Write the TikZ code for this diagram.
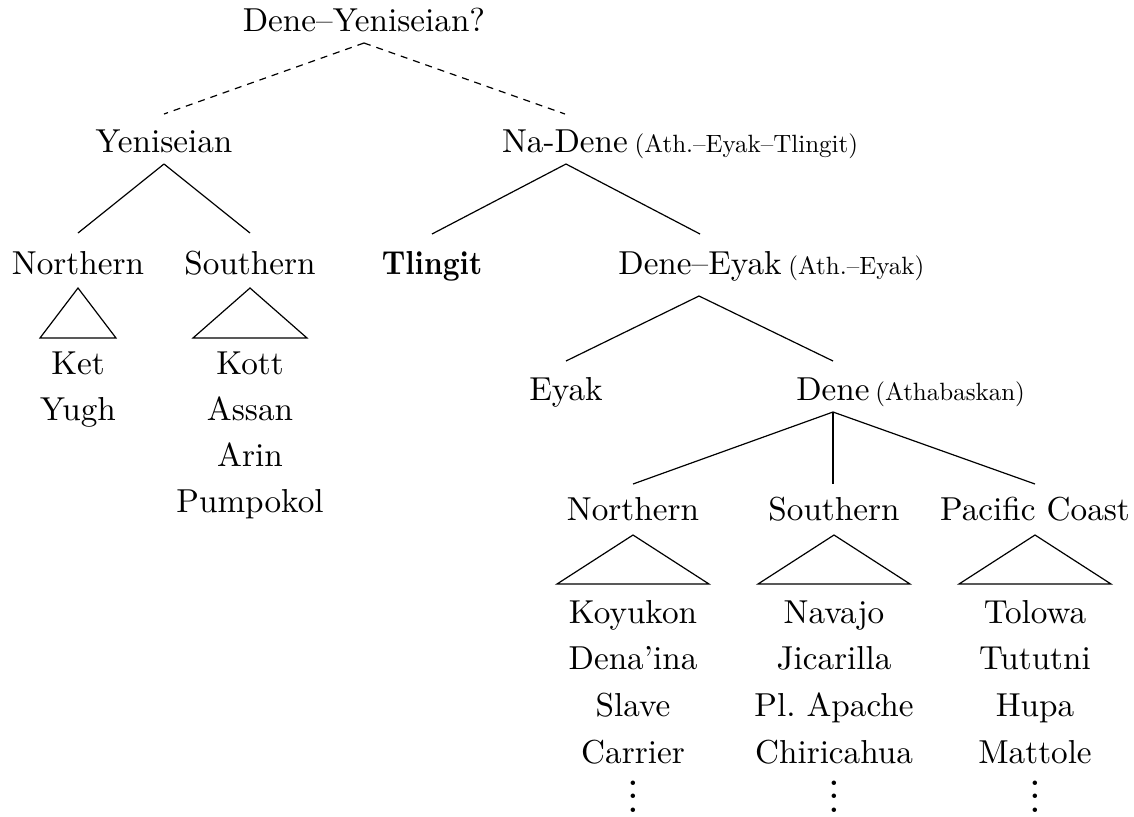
\documentclass[tikz,border=0pt]{standalone}
\usepackage{fontspec}
\setmainfont{lmroman10-regular.otf}[BoldFont=lmroman10-bold.otf]
\usetikzlibrary{calc}
\frenchspacing
\newcommand\stackdots{\vbox{\baselineskip=6.65pt\lineskip=0pt\lineskiplimit=-20pt\hbox{.}\hbox{.}\hbox{.}}}
\tikzset{
  lab/.style={anchor=base, inner sep=0pt, font=\fontsize{16.6}{20}\selectfont},
  sm/.style={anchor=base west, inner sep=0pt, font=\fontsize{12.5}{15}\selectfont},
  dotsnode/.style={anchor=base, inner sep=0pt, font=\fontsize{21}{25}\selectfont},
  edge/.style={line width=0.6pt},
  dashedge/.style={line width=0.6pt, dash pattern=on 3.5pt off 3pt},
  tri/.style={line width=0.6pt, line join=miter},
}
\begin{document}
\begin{tikzpicture}[x=0.5pt,y=-0.5pt]
\useasboundingbox (0,0) rectangle (1134,816);
% upper levels
\node[lab] (root) at (364,31) {Dene--Yeniseian?};
\node[lab] (yen) at (164,152) {Yeniseian};
\node[lab] (nad) at (565,152) {Na-Dene};
\node[sm] (nadp) at ($(nad.base east)+(6,0)$) {(Ath.--Eyak--Tlingit)};
\node[lab] (ynorth) at (78,274) {Northern};
\node[lab] (ysouth) at (250,274) {Southern};
\node[lab] (tli) at (432,274) {\scalebox{0.885}[1]{\bfseries Tlingit}};
\node[lab] (deey) at (700,274) {Dene--Eyak};
\node[sm] (deeyp) at ($(deey.base east)+(6,0)$) {(Ath.--Eyak)};
\node[lab] (eyak) at (566,400) {Eyak};
\node[lab] (dene) at (833,400) {Dene};
\node[sm] (denep) at ($(dene.base east)+(5,0)$) {(Athabaskan)};
\node[lab] (dnorth) at (633,520) {Northern};
\node[lab] (dsouth) at (834,520) {Southern};
\node[lab] (pac) at (1035,520) {Pacific Coast};
% leaves
\foreach \t [count=\i] in {Ket,Yugh}
  \node[lab] (ket\i) at (78,{374+46*(\i-1)}) {\t};
\foreach \t [count=\i] in {Kott,Assan,Arin,Pumpokol}
  \node[lab] (kott\i) at (250,{374+46*(\i-1)}) {\t};
\foreach \t [count=\i] in {Koyukon,Dena'ina,Slave,Carrier}
  \node[lab] (koy\i) at (633,{623+46.7*(\i-1)}) {\t};
\foreach \t [count=\i] in {Navajo,Jicarilla,Pl. Apache,Chiricahua}
  \node[lab] (nav\i) at (834,{623+46.7*(\i-1)}) {\t};
\foreach \t [count=\i] in {Tolowa,Tututni,Hupa,Mattole}
  \node[lab] (tol\i) at (1035,{623+46.7*(\i-1)}) {\t};
\node[dotsnode] (koydots) at (633,812) {\stackdots};
\node[dotsnode] (navdots) at (834,812) {\stackdots};
\node[dotsnode] (toldots) at (1035,812) {\stackdots};
% dashed edges
\draw[dashedge] ($(root.base)+(0,12)$) -- ($(yen.base)+(0,-38)$);
\draw[dashedge] ($(root.base)+(0,12)$) -- ($(nad.base)+(0,-38)$);
% solid edges
\draw[edge] ($(yen.base)+(0,12)$) -- ($(ynorth.base)+(0,-41)$);
\draw[edge] ($(yen.base)+(0,12)$) -- ($(ysouth.base)+(0,-41)$);
\draw[edge] ($(nad.base)+(1,12)$) -- ($(tli.base)+(0,-40)$);
\draw[edge] ($(nad.base)+(1,12)$) -- ($(deey.base)+(0,-40)$);
\draw[edge] ($(deey.base)+(-1,22)$) -- ($(eyak.base)+(0,-39)$);
\draw[edge] ($(deey.base)+(-1,22)$) -- ($(dene.base)+(0,-39)$);
\draw[edge] ($(dene.base)+(0,12)$) -- ($(dnorth.base)+(0,-36)$);
\draw[edge] ($(dene.base)+(0,12)$) -- ($(dsouth.base)+(-1,-36)$);
\draw[edge] ($(dene.base)+(0,12)$) -- ($(pac.base)+(0,-36)$);
% triangles
\draw[tri] ($(ynorth.base)+(0,14)$) -- ($(ynorth.base)+(-38,64)$) -- ($(ynorth.base)+(38,64)$) -- cycle;
\draw[tri] ($(ysouth.base)+(0,14)$) -- ($(ysouth.base)+(-57,64)$) -- ($(ysouth.base)+(57,64)$) -- cycle;
\draw[tri] ($(dnorth.base)+(0,15)$) -- ($(dnorth.base)+(-76,64)$) -- ($(dnorth.base)+(76,64)$) -- cycle;
\draw[tri] ($(dsouth.base)+(0,15)$) -- ($(dsouth.base)+(-76,64)$) -- ($(dsouth.base)+(76,64)$) -- cycle;
\draw[tri] ($(pac.base)+(0,15)$) -- ($(pac.base)+(-76,64)$) -- ($(pac.base)+(76,64)$) -- cycle;
\end{tikzpicture}
\end{document}
